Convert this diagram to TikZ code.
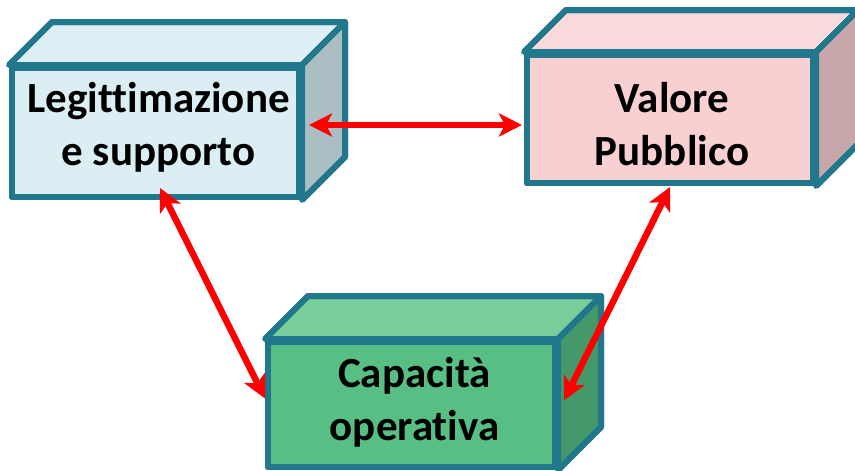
\documentclass[tikz,border=0pt]{standalone}
\usepackage{fontspec}
\setmainfont{Carlito}[Ligatures=NoCommon]
\usetikzlibrary{calc,arrows.meta}
\definecolor{edge}{RGB}{33,119,140}
\definecolor{bluefront}{RGB}{218,238,243}
\definecolor{bluetop}{RGB}{222,240,245}
\definecolor{blueside}{RGB}{170,190,196}
\definecolor{pinkfront}{RGB}{248,208,210}
\definecolor{pinktop}{RGB}{249,218,220}
\definecolor{pinkside}{RGB}{199,167,169}
\definecolor{greenfront}{RGB}{87,191,131}
\definecolor{greentop}{RGB}{120,205,154}
\definecolor{greenside}{RGB}{69,153,104}
\definecolor{arrowred}{RGB}{255,0,0}
\tikzset{
  front/.style={draw=edge, line width=6pt, inner sep=0pt, line join=round},
  face/.style={draw=edge, line width=6pt, line join=round},
  boxtext/.style={align=center, inner sep=0pt, text=black,
    font=\fontsize{43}{53}\selectfont\bfseries},
  link/.style={draw=arrowred, line width=6.5pt,
    {Stealth[length=23pt,width=23pt,inset=6pt]}-{Stealth[length=23pt,width=23pt,inset=6pt]}}
}
\begin{document}
\begin{tikzpicture}[x=1pt,y=-1pt]
\useasboundingbox (0,0) rectangle (855,471);
% Legittimazione e supporto
\node[front, fill=bluefront, minimum width=287pt, minimum height=129pt] (L) at (155.5,132.5) {};
\fill[face, fill=bluetop] (L.north west) -- ++(43,-43) -- ($(L.north east)+(43,-43)$) -- (L.north east) -- cycle;
\fill[face, fill=blueside] (L.north east) -- ++(43,-43) -- ($(L.south east)+(43,-43)$) -- (L.south east) -- cycle;
\draw[face] (L.north west) -- ++(43,-43) -- ($(L.north east)+(43,-43)$) -- ($(L.south east)+(43,-43)$) -- (L.south east);
\draw[face] (L.north east) -- ++(43,-43);
\node[front, minimum width=287pt, minimum height=129pt] at (L.center) {};
\node[boxtext] (Lt) at ($(L.center)+(3,-4.6)$) {\strut Legittimazione\\\strut e supporto};
% Valore Pubblico
\node[front, fill=pinkfront, minimum width=286pt, minimum height=128pt] (V) at (670,119) {};
\fill[face, fill=pinktop] (V.north west) -- ++(42,-42) -- ($(V.north east)+(42,-42)$) -- (V.north east) -- cycle;
\fill[face, fill=pinkside] (V.north east) -- ++(42,-42) -- ($(V.south east)+(42,-42)$) -- (V.south east) -- cycle;
\draw[face] (V.north west) -- ++(42,-42) -- ($(V.north east)+(42,-42)$) -- ($(V.south east)+(42,-42)$) -- (V.south east);
\draw[face] (V.north east) -- ++(42,-42);
\node[front, minimum width=286pt, minimum height=128pt] at (V.center) {};
\node[boxtext] (Vt) at ($(V.center)+(2,8.9)$) {\strut Valore\\\strut Pubblico};
% Capacita operativa
\node[front, fill=greenfront, minimum width=287pt, minimum height=125pt] (C) at (411.5,404.5) {};
\fill[face, fill=greentop] (C.north west) -- ++(43,-43) -- ($(C.north east)+(43,-43)$) -- (C.north east) -- cycle;
\fill[face, fill=greenside] (C.north east) -- ++(43,-43) -- ($(C.south east)+(43,-43)$) -- (C.south east) -- cycle;
\draw[face] (C.north west) -- ++(43,-43) -- ($(C.north east)+(43,-43)$) -- ($(C.south east)+(43,-43)$) -- (C.south east);
\draw[face] (C.north east) -- ++(43,-43);
\node[front, minimum width=287pt, minimum height=125pt] at (C.center) {};
\node[boxtext] (Ct) at ($(C.center)+(3,-1.6)$) {\strut Capacità\\\strut operativa};
% connectors
\draw[link] ($(L.east)+(7,-7.5)$) -- ($(V.west)+(-2,6)$);
\draw[link] ($(L.south)+(4.5,-12)$) -- ($(C.west)+(0,-6)$);
\draw[link] ($(V.south)+(0,1)$) -- ($(C.east)+(6,-4)$);
\end{tikzpicture}
\end{document}
